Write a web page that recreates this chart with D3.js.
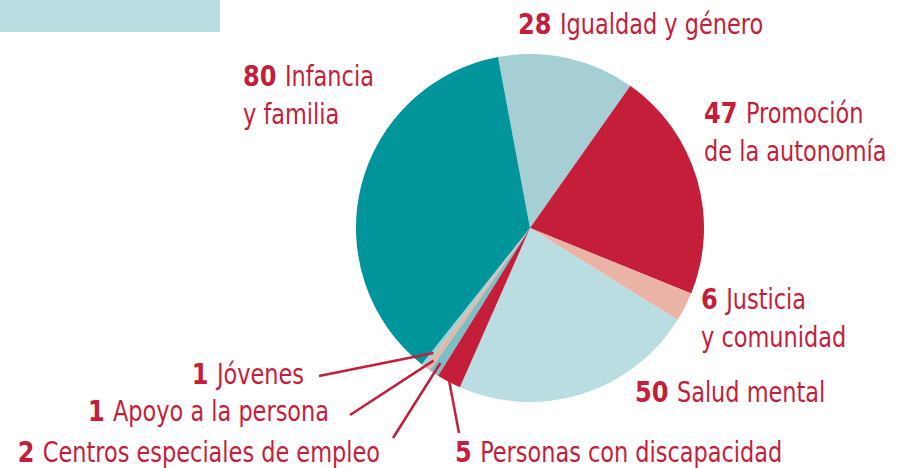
<!DOCTYPE html>
<html>
<head>
<meta charset="utf-8">
<script src="https://cdn.jsdelivr.net/npm/d3@7"></script>
<style>
  body { margin: 0; background: #fff; }
  svg { display: block; }
</style>
</head>
<body>
<div id="vis1"></div>
<script>
// data, clockwise from the top
var categories = ["Igualdad y género", "Promoción de la autonomía", "Justicia y comunidad", "Salud mental",
  "Personas con discapacidad", "Centros especiales de empleo", "Apoyo a la persona", "Jóvenes", "Infancia y familia"];
var values = [28, 47, 6, 50, 5, 2, 1, 1, 80];
var sliceColors = ["#a5cfd4", "#c41e3b", "#ebb2a6", "#badde1", "#c41e3b", "#7abfc4", "#ebb2a6", "#a5cfd4", "#00959a"];

// label lines (first line carries the number)
var labelLines = [
  ["Igualdad y género"],
  ["Promoción", "de la autonomía"],
  ["Justicia", "y comunidad"],
  ["Salud mental"],
  ["Personas con discapacidad"],
  ["Centros especiales de empleo"],
  ["Apoyo a la persona"],
  ["Jóvenes"],
  ["Infancia", "y familia"]
];

var width = 898, height = 468;
var cx = 530, cy = 228, radius = 174;
var red = "#c41e3b";
var font = "'Liberation Sans Narrow', 'DejaVu Sans Condensed', sans-serif";
var squeeze = 0.86; // condensed look

// where each label sits: x, baseline y, anchor, leader line start (or null)
var labelPos = [
  {x: 518, y: 34, anchor: "start", lead: null},
  {x: 704, y: 123, anchor: "start", lead: null},
  {x: 701, y: 309, anchor: "start", lead: null},
  {x: 635, y: 402, anchor: "start", lead: null},
  {x: 455, y: 462, anchor: "start", lead: [459, 433], r: 173},
  {x: 380, y: 462, anchor: "end", lead: [393, 438], r: 162},
  {x: 329, y: 421, anchor: "end", lead: [350, 415], r: 164},
  {x: 304, y: 384, anchor: "end", lead: [319, 376], r: 158},
  {x: 243, y: 86, anchor: "start", lead: null}
];

var svg = d3.select("#vis1")
  .append("svg")
    .attr("width", width)
    .attr("height", height);

// top band
svg.append("rect")
  .attr("x", 0).attr("y", 0)
  .attr("width", 220).attr("height", 32)
  .style("fill", "#badde1");

var startA = -10.6 * Math.PI / 180;
var pie = d3.pie()
  .sort(null)
  .value(function(d) { return d; })
  .startAngle(startA)
  .endAngle(startA + 2 * Math.PI);

var arcs = pie(values);
var arc = d3.arc().innerRadius(0).outerRadius(radius);

var g = svg.append("g")
  .attr("transform", "translate(" + cx + "," + cy + ")");

g.selectAll("path")
  .data(arcs)
  .enter()
  .append("path")
    .attr("d", arc)
    .style("fill", function(d, i) { return sliceColors[i]; });

// leader lines
arcs.forEach(function(d, i) {
  var p = labelPos[i];
  if (!p.lead) return;
  var a = (d.startAngle + d.endAngle) / 2;
  var ex = cx + p.r * Math.sin(a);
  var ey = cy - p.r * Math.cos(a);
  svg.append("line")
    .attr("x1", p.lead[0]).attr("y1", p.lead[1])
    .attr("x2", ex).attr("y2", ey)
    .attr("stroke", red)
    .attr("stroke-width", 2.5);
});

// labels
labelLines.forEach(function(lines, i) {
  var p = labelPos[i];
  lines.forEach(function(line, j) {
    var t = svg.append("text")
      .attr("transform", "translate(" + p.x + "," + (p.y + j * 38) + ") scale(" + squeeze + ",1)")
      .attr("text-anchor", p.anchor)
      .style("font-family", font)
      .style("font-size", "29px")
      .style("fill", red);
    if (j === 0) {
      t.append("tspan")
        .style("font-family", "'DejaVu Sans', sans-serif")
        .style("font-weight", "bold")
        .style("font-size", "28px")
        .text(values[i] + " ");
    }
    t.append("tspan").text(line);
  });
});
</script>
</body>
</html>
